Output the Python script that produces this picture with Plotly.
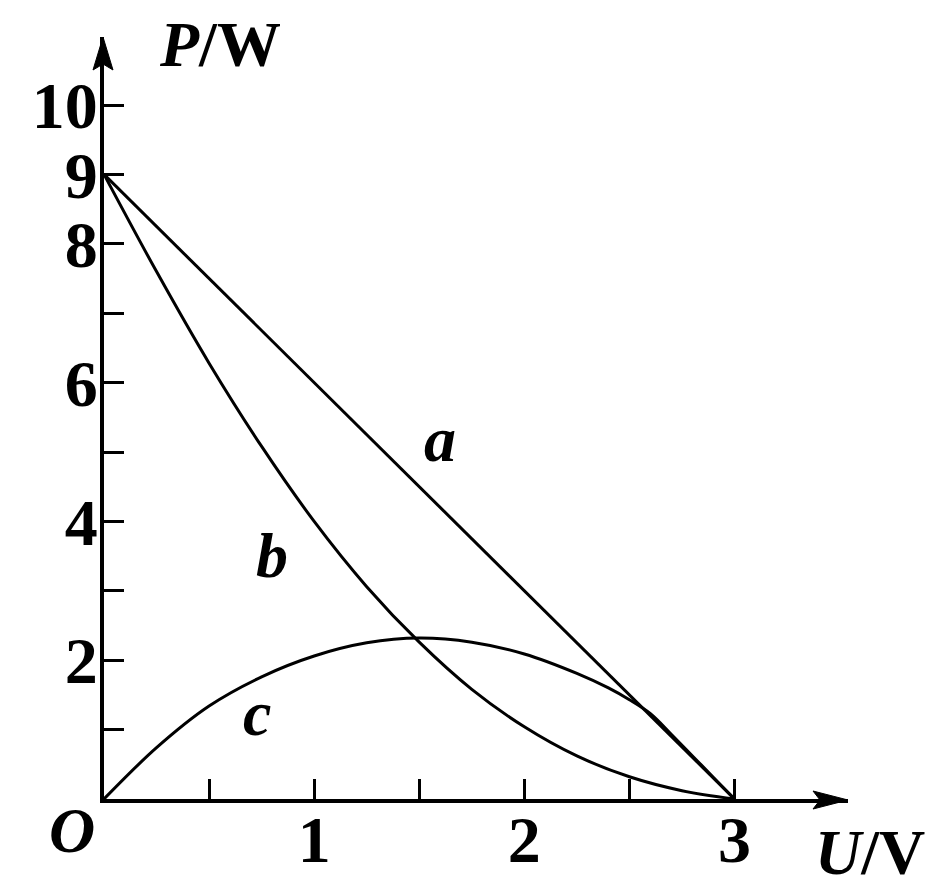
import plotly.graph_objects as go

# Data
U_a = [0.0, 3.0]
P_a = [9.0, 0.0]

U_b = [0.0, 0.25, 0.5, 0.75, 1.0, 1.25, 1.5, 1.75, 2.0, 2.25, 2.5, 2.75, 3.0]
P_b = [9.0, 7.60, 6.28, 5.08, 4.0, 3.06, 2.26, 1.58, 1.04, 0.62, 0.32, 0.12, 0.0]

U_c = [0.0, 0.25, 0.5, 0.75, 1.0, 1.25, 1.5, 1.75, 2.0, 2.25, 2.4, 2.5, 2.6, 2.7, 2.8, 2.9, 3.0]
P_c = [0.0, 0.74, 1.34, 1.76, 2.06, 2.25, 2.32, 2.26, 2.09, 1.81, 1.60, 1.43, 1.23, 0.93, 0.62, 0.31, 0.0]

x_tickvals = [0.5, 1, 1.5, 2, 2.5, 3]
x_ticktext = ["", "1", "", "2", "", "3"]
y_tickvals = [1, 2, 3, 4, 5, 6, 7, 8, 9, 10]
y_ticktext = ["", "2", "", "4", "", "6", "", "8", "9", "10"]

curve_labels = ["a", "b", "c"]
label_U = [1.60, 0.80, 0.73]
label_P = [5.18, 3.51, 1.23]

FONT = "Liberation Serif"
FS = 64
TFS = 66

fig = go.Figure()
for U, P in [(U_a, P_a), (U_b, P_b), (U_c, P_c)]:
    fig.add_trace(go.Scatter(x=U, y=P, mode="lines",
                             line=dict(color="black", width=3, shape="spline", smoothing=1.0),
                             showlegend=False, hoverinfo="skip"))

for t, u, p in zip(curve_labels, label_U, label_P):
    fig.add_annotation(x=u, y=p, text="<i>%s</i>" % t, showarrow=False,
                       xanchor="center", yanchor="middle",
                       font=dict(family=FONT, size=FS, color="black", weight="bold"))

axis_titles = [("<i>P</i>/W", 0.156, 0.9908), ("<i>U</i>/V", 1.0296, -0.0696), ("<i>O</i>", -0.043, -0.0407)]
for txt, px, py in axis_titles:
    fig.add_annotation(xref="paper", yref="paper", x=px, y=py, text=txt, showarrow=False,
                       xanchor="center", yanchor="middle",
                       font=dict(family=FONT, size=FS, color="black", weight="bold"))

# arrow heads at axis ends
fig.add_shape(type="path", xref="paper", yref="paper", xsizemode="pixel", ysizemode="pixel",
              xanchor=0, yanchor=1, path="M-1,0 L-11,-33 L-1,-27 L9,-33 Z",
              fillcolor="black", line=dict(color="black", width=1))
fig.add_shape(type="path", xref="paper", yref="paper", xsizemode="pixel", ysizemode="pixel",
              xanchor=1, yanchor=0, path="M0,-1 L-35,8 L-28,-1 L-35,-10 Z",
              fillcolor="black", line=dict(color="black", width=1))

fig.update_layout(
    width=945, height=893,
    margin=dict(l=96, r=105, t=29, b=102, autoexpand=False),
    plot_bgcolor="white", paper_bgcolor="white",
    showlegend=False,
)
fig.update_xaxes(range=[0, 3.54], showgrid=False, zeroline=False, showline=True, linecolor="black", linewidth=4,
                 ticks="inside", ticklen=20, tickwidth=3, tickcolor="black", automargin=False,
                 tickvals=x_tickvals, ticktext=x_ticktext, ticklabelstandoff=-20,
                 tickfont=dict(family=FONT, size=TFS, color="black", weight="bold"))
fig.update_yaxes(range=[0, 10.98], showgrid=False, zeroline=False, showline=True, linecolor="black", linewidth=4,
                 ticks="inside", ticklen=20, tickwidth=3, tickcolor="black", automargin=False,
                 tickvals=y_tickvals, ticktext=y_ticktext, ticklabelstandoff=-11,
                 tickfont=dict(family=FONT, size=TFS, color="black", weight="bold"))

fig.write_html("out.html")
